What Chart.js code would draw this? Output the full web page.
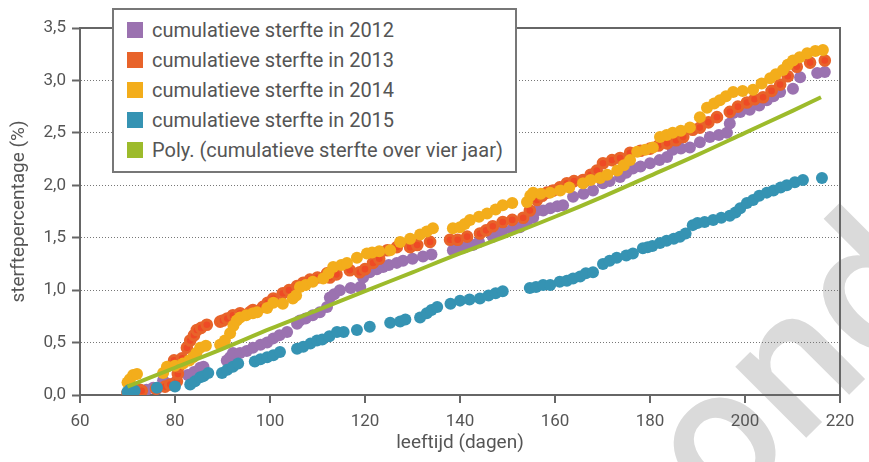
<!DOCTYPE html>
<html>
<head>
<meta charset="utf-8">
<title>Cumulatieve sterfte</title>
<script src="https://cdn.jsdelivr.net/npm/chart.js"></script>
<style>
    body { margin: 0; background: #fff; }
    .wrap { position: relative; width: 869px; height: 462px; }
    #legend {
        position: absolute; left: 112px; top: 8px;
        width: 405px; height: 165px; box-sizing: border-box;
        border: 2px solid #777; background: #fff;
        padding-top: 5px;
        font-family: Roboto, sans-serif; font-size: 20px; color: #555;
    }
    .item { display: flex; align-items: center; height: 30px; padding-left: 13px; white-space: nowrap; }
    .swatch { width: 16px; height: 16px; margin-right: 9px; flex: none; }
</style>
</head>
<body>
<div class="wrap">
    <canvas id="sterfteChart"></canvas>
    <div id="legend"></div>
</div>
<script>
// leeftijd (dagen) en cumulatieve sterfte (%) per jaar
const days2012 = [72, 74, 75.4, 76.2, 77.5, 78.3, 80, 82.7, 83.2, 84, 85.3, 86, 90.9, 91.6, 92.2, 93.7, 95.1, 96.4, 98, 99.4, 100.7, 102, 103.6, 105.7, 106.3, 107.5, 109, 110.5, 112, 112.6, 113.5, 114.7, 117, 119, 119.6, 121, 122.5, 123.8, 125, 126.7, 128, 130, 132.2, 134, 138.5, 139.4, 141, 142.7, 144, 146.9, 148, 149, 151, 152.6, 154, 155.4, 156.2, 157.5, 159, 160.5, 161.7, 163.8, 166, 168, 170.1, 171.5, 173.7, 175, 176.4, 178, 180, 182, 183.6, 184.8, 186.5, 188.4, 190.5, 192.6, 194.5, 196.2, 196.8, 197.5, 199, 201, 203, 204.6, 206, 207.4, 210.1, 211.6, 215.2, 216.8];
const vals2012 = [0.03, 0.05, 0.07, 0.06, 0.14, 0.11, 0.12, 0.19, 0.19, 0.22, 0.26, 0.27, 0.33, 0.36, 0.40, 0.40, 0.42, 0.45, 0.48, 0.50, 0.54, 0.57, 0.60, 0.68, 0.71, 0.73, 0.76, 0.79, 0.84, 0.93, 0.96, 1.00, 1.02, 1.03, 1.12, 1.17, 1.20, 1.22, 1.24, 1.26, 1.28, 1.30, 1.32, 1.34, 1.38, 1.40, 1.41, 1.43, 1.46, 1.51, 1.54, 1.57, 1.58, 1.60, 1.64, 1.69, 1.76, 1.76, 1.78, 1.80, 1.81, 1.89, 1.92, 1.95, 2.02, 2.04, 2.08, 2.12, 2.16, 2.18, 2.21, 2.24, 2.27, 2.34, 2.35, 2.36, 2.41, 2.46, 2.48, 2.50, 2.59, 2.69, 2.70, 2.72, 2.76, 2.81, 2.85, 2.89, 2.92, 3.03, 3.07, 3.08];

const days2013 = [70, 71, 72.6, 73, 76, 77.9, 79, 80.4, 80.6, 80.8, 79.8, 81.5, 82.5, 83.2, 84, 84.6, 85.5, 86.7, 89.5, 90.1, 91, 92.2, 93.7, 95.8, 96.4, 98.5, 99.5, 100.7, 102.7, 104, 105.7, 107, 108.4, 110, 112, 112.6, 114, 116.8, 118.9, 120, 121.7, 123, 124.7, 126.7, 129.5, 131, 133.7, 137.9, 139.5, 141.5, 144.2, 145.5, 146.9, 149, 151, 153.3, 154.7, 156.2, 157.3, 158.3, 159.6, 161, 162.5, 164, 165.9, 167.5, 168.8, 170.1, 172, 173.7, 175.8, 178, 180, 181.8, 183.6, 185.5, 187, 189, 190.5, 192.3, 194.1, 196.8, 198.5, 200.4, 202, 203.8, 205.6, 207.4, 209, 210.9, 213.7, 216.8];
const vals2013 = [0.02, 0.03, 0.05, 0.04, 0.06, 0.08, 0.10, 0.13, 0.20, 0.27, 0.33, 0.35, 0.45, 0.52, 0.57, 0.62, 0.64, 0.67, 0.70, 0.71, 0.73, 0.76, 0.78, 0.79, 0.81, 0.84, 0.88, 0.92, 0.97, 1.00, 1.04, 1.07, 1.10, 1.12, 1.16, 1.12, 1.15, 1.19, 1.17, 1.20, 1.26, 1.30, 1.38, 1.41, 1.41, 1.43, 1.46, 1.48, 1.48, 1.51, 1.54, 1.57, 1.61, 1.65, 1.67, 1.69, 1.76, 1.86, 1.90, 1.93, 1.95, 1.98, 2.02, 2.04, 2.05, 2.10, 2.14, 2.21, 2.24, 2.26, 2.31, 2.33, 2.35, 2.38, 2.40, 2.43, 2.46, 2.53, 2.55, 2.60, 2.65, 2.70, 2.75, 2.79, 2.82, 2.84, 2.90, 2.96, 3.04, 3.13, 3.17, 3.19];

const days2014 = [70, 70.5, 71.2, 72, 77.5, 78.3, 80, 81.7, 83, 83.8, 84.5, 85.3, 86.5, 89.5, 90.5, 91.6, 92.3, 93, 93.7, 95, 96.4, 97.3, 99.4, 100.7, 102.7, 104.8, 105.5, 106.3, 107.5, 109, 111.2, 112.3, 113.3, 115, 116.2, 118.3, 120.4, 121.5, 123, 125.3, 127.4, 129.5, 131.6, 133, 134.3, 138.5, 140, 141, 142.1, 144, 145.7, 147.5, 149, 151, 154.1, 154.8, 155.4, 157, 159, 161.1, 163, 165.9, 167.5, 169.5, 171, 173.1, 174.5, 175.8, 177.3, 179, 180.6, 182.1, 183.5, 184.8, 186.5, 188.4, 190.5, 192, 193.5, 194.7, 196, 197.5, 199.5, 201.7, 203.5, 205.3, 206.5, 208, 209, 210.1, 211.5, 213.1, 214.8, 216.4];
const vals2014 = [0.12, 0.15, 0.19, 0.20, 0.21, 0.27, 0.28, 0.30, 0.33, 0.36, 0.40, 0.45, 0.47, 0.48, 0.52, 0.59, 0.66, 0.71, 0.74, 0.76, 0.78, 0.79, 0.83, 0.88, 0.87, 0.92, 0.95, 1.03, 1.05, 1.08, 1.11, 1.16, 1.22, 1.24, 1.26, 1.31, 1.35, 1.36, 1.37, 1.38, 1.46, 1.49, 1.53, 1.56, 1.59, 1.59, 1.60, 1.63, 1.67, 1.70, 1.73, 1.77, 1.81, 1.83, 1.84, 1.90, 1.93, 1.92, 1.93, 1.95, 1.98, 2.02, 2.05, 2.07, 2.10, 2.14, 2.19, 2.24, 2.32, 2.34, 2.36, 2.46, 2.48, 2.50, 2.52, 2.55, 2.65, 2.74, 2.78, 2.81, 2.85, 2.89, 2.90, 2.91, 2.97, 3.02, 3.06, 3.10, 3.15, 3.19, 3.22, 3.26, 3.28, 3.29];

const days2015 = [70, 70.5, 71.5, 76.2, 80, 83.2, 84.2, 85.3, 86, 87, 89.9, 91, 92.2, 93.3, 96.8, 98, 99.4, 100.7, 102.1, 105.7, 107, 108.5, 109.9, 111, 112.5, 114.1, 115.5, 118.3, 121, 125.3, 127.4, 128.5, 131.6, 133, 134, 135.2, 138, 140, 142, 144.2, 146, 147.5, 149, 154.7, 156, 157.5, 159, 161, 162.5, 163.8, 165.3, 166.5, 168, 170.1, 171.5, 173, 175, 176.4, 178.5, 179.5, 180.5, 182.1, 183.5, 185, 186.3, 187.5, 189, 190, 191.5, 193.3, 195, 196.8, 198, 199, 200.4, 201.7, 203, 204.6, 206, 207.5, 208.8, 210.5, 212.2, 216.2];
const vals2015 = [0.03, 0.05, 0.04, 0.07, 0.08, 0.10, 0.13, 0.17, 0.18, 0.21, 0.21, 0.24, 0.27, 0.30, 0.32, 0.34, 0.36, 0.38, 0.41, 0.44, 0.46, 0.49, 0.52, 0.53, 0.56, 0.60, 0.60, 0.62, 0.65, 0.69, 0.70, 0.72, 0.74, 0.78, 0.81, 0.84, 0.87, 0.90, 0.91, 0.92, 0.95, 0.97, 0.99, 1.02, 1.03, 1.05, 1.05, 1.08, 1.09, 1.11, 1.13, 1.16, 1.17, 1.25, 1.28, 1.31, 1.33, 1.35, 1.40, 1.41, 1.42, 1.45, 1.47, 1.49, 1.51, 1.54, 1.62, 1.64, 1.65, 1.67, 1.69, 1.71, 1.74, 1.78, 1.83, 1.86, 1.90, 1.93, 1.95, 1.98, 2.00, 2.03, 2.05, 2.07];

// polynomiale trendlijn over vier jaar
const daysPoly = [70, 80, 90, 100, 110, 120, 130, 140, 150, 160, 170, 180, 190, 200, 210, 216];
const valsPoly = [0.08, 0.26, 0.44, 0.63, 0.81, 0.99, 1.17, 1.35, 1.52, 1.70, 1.89, 2.09, 2.29, 2.50, 2.71, 2.84];

const labels = ['cumulatieve sterfte in 2012', 'cumulatieve sterfte in 2013', 'cumulatieve sterfte in 2014', 'cumulatieve sterfte in 2015', 'Poly. (cumulatieve sterfte over vier jaar)'];
const colors = ['#9b72b0', '#e8632a', '#f3ad1b', '#3593b3', '#9dbb2b'];

const toPoints = (xs, ys) => xs.map((x, i) => ({ x: x, y: ys[i] }));

Chart.defaults.font.family = 'Roboto, sans-serif';
Chart.defaults.color = '#555';

// watermerk op de achtergrond
const watermark = {
    id: 'watermark',
    beforeDraw(chart) {
        const ctx = chart.ctx;
        ctx.save();
        ctx.translate(722, 522);
        ctx.rotate(-Math.PI / 4);
        ctx.font = '500 190px Roboto';
        ctx.fillStyle = '#dadada';
        ctx.fillText('ond', 0, 0);
        ctx.restore();
    }
};

// kader boven en rechts van het plotgebied
const frame = {
    id: 'frame',
    afterDraw(chart) {
        const a = chart.chartArea, ctx = chart.ctx;
        ctx.save();
        ctx.strokeStyle = '#666';
        ctx.lineWidth = 2;
        ctx.beginPath();
        ctx.moveTo(a.left, a.top);
        ctx.lineTo(a.right, a.top);
        ctx.lineTo(a.right, a.bottom);
        ctx.stroke();
        ctx.restore();
    }
};

const ctx = document.getElementById('sterfteChart').getContext('2d');
const sterfteChart = new Chart(ctx, {
    type: 'scatter',
    data: {
        datasets: [
            { label: labels[0], data: toPoints(days2012, vals2012), backgroundColor: colors[0], borderWidth: 0, pointRadius: 6, order: 5 },
            { label: labels[1], data: toPoints(days2013, vals2013), backgroundColor: '#ee4a25', borderColor: colors[1], borderWidth: 3, pointRadius: 4.8, order: 4 },
            { label: labels[2], data: toPoints(days2014, vals2014), backgroundColor: colors[2], borderWidth: 0, pointRadius: 6, order: 3 },
            { label: labels[3], data: toPoints(days2015, vals2015), backgroundColor: colors[3], borderWidth: 0, pointRadius: 6, order: 2 },
            { type: 'line', label: labels[4], data: toPoints(daysPoly, valsPoly), borderColor: colors[4], borderWidth: 4, pointRadius: 0, fill: false, showLine: true, cubicInterpolationMode: 'monotone', order: 1 }
        ]
    },
    options: {
        responsive: true,
        maintainAspectRatio: false,
        animation: false,
        layout: { padding: { left: 0, right: 29, top: 28, bottom: 0 } },
        plugins: { legend: { display: false }, tooltip: { enabled: false } },
        elements: { point: { hoverRadius: 6 } },
        scales: {
            x: {
                type: 'linear', min: 60, max: 220,
                ticks: { stepSize: 20, font: { size: 17 }, padding: 9, color: '#555' },
                grid: { drawOnChartArea: false, tickLength: 8, color: '#666', lineWidth: 2 },
                border: { color: '#666', width: 2 },
                title: { display: true, text: 'leeftijd (dagen)', font: { size: 19 }, color: '#555', padding: { top: 0, bottom: 7 } },
                afterFit: s => { s.height = 67; }
            },
            y: {
                min: 0, max: 3.5,
                ticks: { stepSize: 0.5, font: { size: 17 }, padding: 6, color: '#555', callback: v => v.toFixed(1).replace('.', ',') },
                grid: { color: '#777', lineWidth: 1, tickLength: 8, tickColor: '#666', tickWidth: 2 },
                border: { color: '#666', width: 2, dash: [1, 2] },
                title: { display: true, text: 'sterftepercentage (%)', font: { size: 19 }, color: '#555', padding: { top: 8, bottom: 8 } },
                afterFit: s => { s.width = 80; }
            }
        }
    },
    plugins: [watermark, frame]
});

// legenda als kader linksboven
const legendBox = document.getElementById('legend');
labels.forEach((label, i) => {
    const item = document.createElement('div');
    item.className = 'item';
    const sw = document.createElement('span');
    sw.className = 'swatch';
    sw.style.background = colors[i];
    const txt = document.createElement('span');
    txt.textContent = label;
    item.appendChild(sw);
    item.appendChild(txt);
    legendBox.appendChild(item);
});
</script>
</body>
</html>
